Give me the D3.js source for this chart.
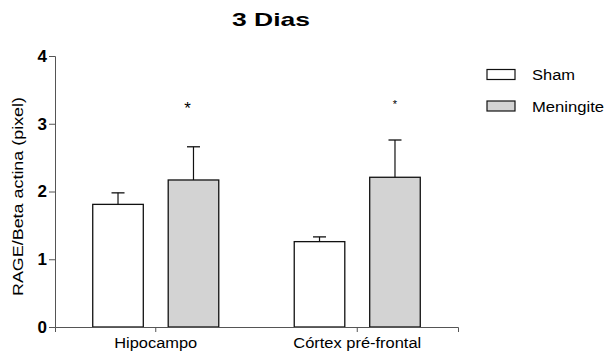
<!DOCTYPE html>
<html>
<head>
<meta charset="utf-8">
<script src="https://cdn.jsdelivr.net/npm/d3@7"></script>
<style>
  body { margin: 0; background: #fff; }
  text { font-family: Arial, "Liberation Sans", sans-serif; }
</style>
</head>
<body>
<div id="chart"></div>
<script>
const width = 607;
const height = 355;

// data
const regions = ["Hipocampo", "Córtex pré-frontal"];
const groups = ["Sham", "Meningite"];
const shamMeans = [1.81, 1.26];
const shamSem = [0.17, 0.07];
const meninMeans = [2.17, 2.21];
const meninSem = [0.49, 0.55];
const yTicks = [0, 1, 2, 3, 4];
const colors = ["#ffffff", "#d3d3d3"];

const rows = [];
regions.forEach((r, i) => {
    rows.push({ region: r, group: "Sham", mean: shamMeans[i], sem: shamSem[i] });
    rows.push({ region: r, group: "Meningite", mean: meninMeans[i], sem: meninSem[i] });
});

const svg = d3.select("#chart").append("svg")
    .attr("width", width)
    .attr("height", height);

const x0 = d3.scaleBand().domain(regions).range([55, 458]).padding(0);
const x1 = d3.scaleBand().domain(groups).range([0, x0.bandwidth()])
    .paddingInner(0.33).paddingOuter(0.5);
const y = d3.scaleLinear().domain([0, 4]).range([327, 56]);
const color = d3.scaleOrdinal().domain(groups).range(colors);

// title
svg.append("text")
    .attr("x", 232).attr("y", 26)
    .attr("textLength", 78).attr("lengthAdjust", "spacingAndGlyphs")
    .style("font-size", "19px").style("font-weight", "bold")
    .text("3 Dias");

// bars
const g = svg.append("g");
g.selectAll("rect")
    .data(rows)
    .join("rect")
    .attr("x", d => x0(d.region) + x1(d.group))
    .attr("y", d => y(d.mean))
    .attr("width", x1.bandwidth())
    .attr("height", d => y(0) - y(d.mean))
    .attr("fill", d => color(d.group))
    .attr("stroke", "#111")
    .attr("stroke-width", 1.3);

// error bars (upper only)
const cap = 6.5;
rows.forEach(d => {
    const cx = x0(d.region) + x1(d.group) + x1.bandwidth() / 2;
    g.append("line")
        .attr("x1", cx).attr("x2", cx)
        .attr("y1", y(d.mean)).attr("y2", y(d.mean + d.sem))
        .attr("stroke", "#111").attr("stroke-width", 1.2);
    g.append("line")
        .attr("x1", cx - cap).attr("x2", cx + cap)
        .attr("y1", y(d.mean + d.sem)).attr("y2", y(d.mean + d.sem))
        .attr("stroke", "#111").attr("stroke-width", 1.3);
});

// significance stars
svg.append("text")
    .attr("x", x0("Hipocampo") + x1("Meningite") + x1.bandwidth() / 2 - 6)
    .attr("y", 114)
    .attr("text-anchor", "middle")
    .style("font-size", "17px")
    .text("*");
svg.append("text")
    .attr("x", x0("Córtex pré-frontal") + x1("Meningite") + x1.bandwidth() / 2)
    .attr("y", 108)
    .attr("text-anchor", "middle")
    .style("font-size", "11px")
    .text("*");

// y axis
const yAxis = svg.append("g")
    .attr("transform", "translate(55,0)")
    .call(d3.axisLeft(y).tickValues(yTicks).tickSize(6).tickFormat(d3.format("d")));
yAxis.select(".domain").attr("stroke", "#555");
yAxis.selectAll(".tick line").attr("stroke", "#555");
yAxis.selectAll(".tick text")
    .attr("x", -8)
    .style("font-size", "17px").style("font-weight", "bold")
    .style("font-family", "Arial, 'Liberation Sans', sans-serif")
    .attr("fill", "#000");

// x axis
const xAxis = svg.append("g")
    .attr("transform", "translate(0,327)")
    .call(d3.axisBottom(x0).tickSizeOuter(0).tickSize(5));
xAxis.select(".domain").attr("stroke", "#555");
xAxis.selectAll(".tick line").attr("stroke", "#555");
const xLabelLen = { "Hipocampo": 83, "Córtex pré-frontal": 128 };
xAxis.selectAll(".tick text")
    .attr("y", 21).attr("dy", null)
    .attr("x", d => -xLabelLen[d] / 2)
    .attr("text-anchor", "start")
    .attr("textLength", d => xLabelLen[d])
    .attr("lengthAdjust", "spacingAndGlyphs")
    .style("font-size", "14px")
    .style("font-family", "Arial, 'Liberation Sans', sans-serif")
    .attr("fill", "#000");

// y label
svg.append("text")
    .attr("transform", "translate(23,296) rotate(-90)")
    .attr("textLength", 199).attr("lengthAdjust", "spacingAndGlyphs")
    .style("font-size", "14px")
    .text("RAGE/Beta actina (pixel)");

// legend
const legend = svg.append("g");
const legLen = [43, 72];
groups.forEach((grp, i) => {
    legend.append("rect")
        .attr("x", 487).attr("y", 69.5 + i * 31.5)
        .attr("width", 28).attr("height", 10)
        .attr("fill", color(grp))
        .attr("stroke", "#111").attr("stroke-width", 1.2);
    legend.append("text")
        .attr("x", 532).attr("y", 80 + i * 31.5)
        .attr("textLength", legLen[i]).attr("lengthAdjust", "spacingAndGlyphs")
        .style("font-size", "14px")
        .text(grp);
});
</script>
</body>
</html>
